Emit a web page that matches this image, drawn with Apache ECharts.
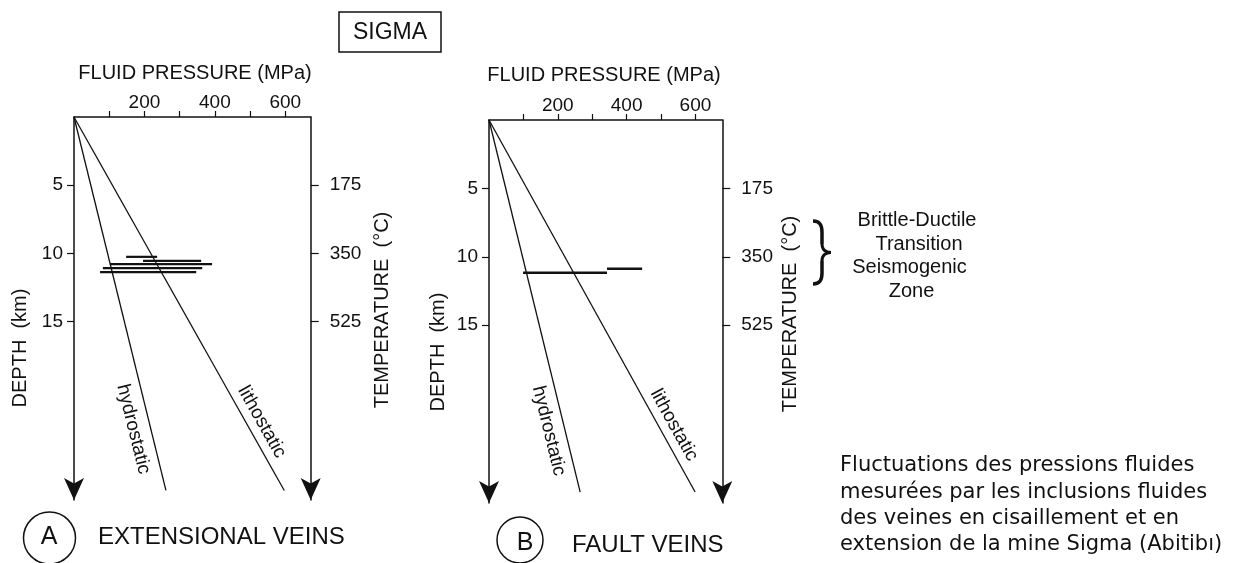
<!DOCTYPE html>
<html><head><meta charset="utf-8">
<script src="https://cdn.jsdelivr.net/npm/echarts@6/dist/echarts.min.js"></script>
<style>html,body{margin:0;padding:0;background:#fff}#c{width:1233px;height:563px}</style>
</head><body><div id="c"></div>
<script>
// ---------- data ----------
const pressureTicks = [100, 200, 300, 400, 500, 600];
const pressureLabels = [200, 400, 600];
const depthTicks = [5, 10, 15];
const tempTicks = [175, 350, 525];
const depthMaxA = 28.1, depthMaxB = 28.0;
const pressureMaxA = 672, pressureMaxB = 678;
const hydroA = [[0, 0], [261, 27.4]];
const lithoA = [[0, 0], [597, 27.4]];
const hydroB = [[0, 0], [265, 27.2]];
const lithoB = [[0, 0], [599, 27.2]];
const veinA_pmin = [148, 196, 102, 82, 74];
const veinA_pmax = [236, 361, 392, 364, 347];
const veinA_depth = [10.26, 10.55, 10.79, 11.09, 11.38];
const veinB_pmin = [99, 343];
const veinB_pmax = [343, 445];
const veinB_depth = [11.17, 10.88];

// ---------- chart ----------
const INK = '#111';
const FONT = 'Liberation Sans';
const tempPerKm = tempTicks[0] / depthTicks[0];

function pAxis(gi, max) {
  return {
    type: 'value', gridIndex: gi, position: 'top', min: 0, max: max, interval: 100,
    axisLine: { show: true, onZero: false, lineStyle: { color: INK, width: 1.5 } },
    axisTick: { show: true, customValues: pressureTicks, length: 6, lineStyle: { color: INK, width: 1.2 } },
    axisLabel: { show: true, customValues: pressureLabels, margin: 5, color: INK, fontSize: 19, fontFamily: FONT,
      formatter: v => (v > 0 && v % 200 === 0 && v <= 600) ? String(v) : '' },
    splitLine: { show: false }
  };
}
function dAxis(gi, max) {
  return {
    type: 'value', gridIndex: gi, position: 'left', inverse: true, min: 0, max: max, interval: 5,
    axisLine: { show: true, onZero: false, symbol: ['arrow', 'none'], symbolSize: [15, 22], lineStyle: { color: INK, width: 1.5 } },
    axisTick: { show: true, customValues: depthTicks, length: 7, lineStyle: { color: INK, width: 1.2 } },
    axisLabel: { show: true, customValues: depthTicks, margin: 11, color: INK, fontSize: 19, fontFamily: FONT,
      formatter: v => (v > 0 && v <= 15) ? String(v) : '' },
    splitLine: { show: false }
  };
}
function tAxis(gi, maxDepth) {
  return {
    type: 'value', gridIndex: gi, position: 'right', inverse: true, min: 0, max: maxDepth * tempPerKm, interval: 175,
    axisLine: { show: true, onZero: false, symbol: ['arrow', 'none'], symbolSize: [15, 22], lineStyle: { color: INK, width: 1.5 } },
    axisTick: { show: true, customValues: tempTicks, length: 8, lineStyle: { color: INK, width: 1.2 } },
    axisLabel: { show: true, customValues: tempTicks, margin: 19, color: INK, fontSize: 19, fontFamily: FONT,
      formatter: v => (v > 0 && v <= 525) ? String(v) : '' },
    splitLine: { show: false }
  };
}
function lineSeries(gi, data) {
  return { type: 'line', xAxisIndex: gi, yAxisIndex: gi * 2, data: data, symbol: 'none',
    lineStyle: { color: INK, width: 1.3 }, silent: true, animation: false, z: 3 };
}
function veinSeries(gi, pmin, pmax, depth, w) {
  return {
    type: 'custom', coordinateSystem: 'cartesian2d', xAxisIndex: gi, yAxisIndex: gi * 2,
    data: pmin.map((v, i) => [v, pmax[i], depth[i]]), encode: { x: [0, 1], y: 2 },
    renderItem: (params, api) => {
      const a = api.coord([api.value(0), api.value(2)]);
      const b = api.coord([api.value(1), api.value(2)]);
      return { type: 'line', shape: { x1: a[0], y1: a[1], x2: b[0], y2: b[1] }, style: { stroke: INK, lineWidth: w } };
    },
    silent: true, animation: false, z: 4
  };
}
function txt(x, y, text, size, opts) {
  opts = opts || {};
  const al = opts.align || 'center';
  return {
    type: 'text', x: x, y: y, rotation: opts.rotation || 0, z: 10, silent: true,
    style: { text: text, fontSize: size, fontFamily: opts.family || FONT, fill: INK,
      align: al, textAlign: al, verticalAlign: 'middle', textVerticalAlign: 'middle' }
  };
}

const FR = 'DejaVu Sans';
const staticGraphics = [
  { type: 'rect', shape: { x: 339, y: 12, width: 102, height: 40 }, style: { fill: 'none', stroke: INK, lineWidth: 1.5 }, silent: true },
  txt(390, 33, 'SIGMA', 23),
  txt(195, 73, 'FLUID PRESSURE (MPa)', 20),
  txt(604, 75, 'FLUID PRESSURE (MPa)', 20),
  txt(20, 348, 'DEPTH  (km)', 20, { rotation: Math.PI / 2 }),
  txt(438, 352, 'DEPTH  (km)', 20, { rotation: Math.PI / 2 }),
  txt(382.5, 310, 'TEMPERATURE  (°C)', 20, { rotation: Math.PI / 2 }),
  txt(790, 314, 'TEMPERATURE  (°C)', 20, { rotation: Math.PI / 2 }),
  { type: 'circle', shape: { cx: 49.5, cy: 538, r: 26 }, style: { fill: 'none', stroke: INK, lineWidth: 1.5 }, silent: true },
  txt(49, 537, 'A', 25),
  { type: 'circle', shape: { cx: 520, cy: 540, r: 23 }, style: { fill: 'none', stroke: INK, lineWidth: 1.5 }, silent: true },
  txt(525, 543, 'B', 25),
  txt(98, 537, 'EXTENSIONAL VEINS', 24, { align: 'left' }),
  txt(572, 545, 'FAULT VEINS', 24, { align: 'left' }),
  {
    type: 'group', x: 813, y: 220, silent: true, children: [
      { type: 'bezierCurve', shape: { x1: 0, y1: 1, cpx1: 7, cpy1: 1, cpx2: 9, cpy2: 5, x2: 9, y2: 12 }, style: { stroke: INK, lineWidth: 3.5, fill: 'none' } },
      { type: 'line', shape: { x1: 9, y1: 12, x2: 9, y2: 24 }, style: { stroke: INK, lineWidth: 3.5 } },
      { type: 'bezierCurve', shape: { x1: 9, y1: 24, cpx1: 9, cpy1: 30, cpx2: 13, cpy2: 32.5, x2: 18, y2: 32.5 }, style: { stroke: INK, lineWidth: 3, fill: 'none' } },
      { type: 'bezierCurve', shape: { x1: 18, y1: 32.5, cpx1: 13, cpy1: 32.5, cpx2: 9, cpy2: 35, x2: 9, y2: 41 }, style: { stroke: INK, lineWidth: 3, fill: 'none' } },
      { type: 'line', shape: { x1: 9, y1: 41, x2: 9, y2: 53 }, style: { stroke: INK, lineWidth: 3.5 } },
      { type: 'bezierCurve', shape: { x1: 9, y1: 53, cpx1: 9, cpy1: 60, cpx2: 7, cpy2: 64, x2: 0, y2: 64 }, style: { stroke: INK, lineWidth: 3.5, fill: 'none' } }
    ]
  },
  txt(917, 220, 'Brittle-Ductile', 20),
  txt(919, 244, 'Transition', 20),
  txt(909.5, 267, 'Seismogenic', 20),
  txt(911.5, 291, 'Zone', 20),
  txt(840, 466, 'Fluctuations des pressions fluides', 21, { align: 'left', family: FR }),
  txt(840, 492.5, 'mesurées par les inclusions fluides', 21, { align: 'left', family: FR }),
  txt(840, 519, 'des veines en cisaillement et en', 21, { align: 'left', family: FR }),
  txt(840, 545, 'extension de la mine Sigma (Abitibı)', 21, { align: 'left', family: FR })
];

const chart = echarts.init(document.getElementById('c'), null, { renderer: 'canvas' });
chart.setOption({
  animation: false,
  backgroundColor: '#fff',
  grid: [
    { left: 74, top: 117, width: 236.7, height: 383 },
    { left: 489, top: 120, width: 233.3, height: 383 }
  ],
  xAxis: [pAxis(0, pressureMaxA), pAxis(1, pressureMaxB)],
  yAxis: [dAxis(0, depthMaxA), tAxis(0, depthMaxA), dAxis(1, depthMaxB), tAxis(1, depthMaxB)],
  series: [
    lineSeries(0, hydroA), lineSeries(0, lithoA),
    lineSeries(1, hydroB), lineSeries(1, lithoB),
    veinSeries(0, veinA_pmin, veinA_pmax, veinA_depth, 2.2),
    veinSeries(1, veinB_pmin, veinB_pmax, veinB_depth, 2.6)
  ],
  graphic: staticGraphics
});

// labels placed along the pressure-gradient lines, computed from the chart's scales
function alongLabel(seriesIndex, data, text, frac, offset, side) {
  const p0 = chart.convertToPixel({ seriesIndex: seriesIndex }, data[0]);
  const p1 = chart.convertToPixel({ seriesIndex: seriesIndex }, data[1]);
  const dx = p1[0] - p0[0], dy = p1[1] - p0[1];
  const len = Math.sqrt(dx * dx + dy * dy);
  const nx = side < 0 ? -dy / len : dy / len;
  const ny = side < 0 ? dx / len : -dx / len;
  const cx = p0[0] + dx * frac + nx * offset;
  const cy = p0[1] + dy * frac + ny * offset;
  return txt(cx, cy, text, 19, { rotation: -Math.atan2(dy, dx) });
}
const lineLabels = [
  alongLabel(0, hydroA, 'hydrostatic', 0.825, 17, -1),
  alongLabel(1, lithoA, 'lithostatic', 0.835, 14, 1),
  alongLabel(2, hydroB, 'hydrostatic', 0.825, 16, -1),
  alongLabel(3, lithoB, 'lithostatic', 0.838, 14, 1)
];
chart.setOption({ graphic: staticGraphics.concat(lineLabels) });
</script>
</body></html>
